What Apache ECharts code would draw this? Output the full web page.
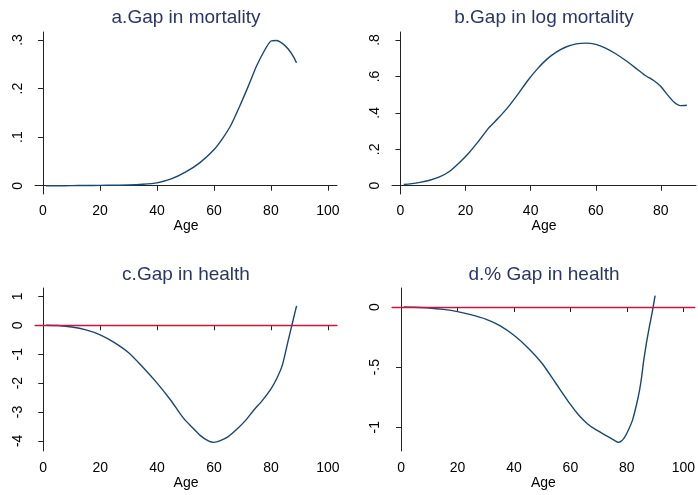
<!DOCTYPE html>
<html>
<head>
<meta charset="utf-8">
<title>Gaps by age</title>
<script src="https://cdn.jsdelivr.net/npm/echarts@6/dist/echarts.min.js"></script>
<style>
  html, body { margin: 0; padding: 0; background: #ffffff; }
  #chart { width: 698px; height: 495px; }
</style>
</head>
<body>
<div id="chart"></div>
<script>
// Panel titles
const panelTitles = ['a.Gap in mortality', 'b.Gap in log mortality', 'c.Gap in health', 'd.% Gap in health'];
const xAxisName = 'Age';

// a. Gap in mortality
const agesA = [1, 5, 10, 15, 20, 25, 30, 35, 40, 45, 50, 55, 60, 63, 66, 69, 72, 75, 78, 80, 82, 84, 86, 88, 89];
const gapMortality = [0, 0, 0.0003, 0.0005, 0.0008, 0.001, 0.0015, 0.003, 0.006, 0.014, 0.028, 0.047, 0.074, 0.097, 0.125, 0.163, 0.204, 0.247, 0.281, 0.298, 0.299, 0.293, 0.282, 0.265, 0.253];

// b. Gap in log mortality
const agesB = [1, 3, 6, 9, 12, 15, 18, 21, 24, 27, 30, 33, 36, 39, 42, 45, 48, 51, 54, 57, 60, 63, 66, 69, 72, 75, 78, 80, 82, 84, 86, 88];
const gapLogMortality = [0.007, 0.01, 0.018, 0.03, 0.048, 0.078, 0.125, 0.18, 0.245, 0.315, 0.37, 0.43, 0.5, 0.575, 0.64, 0.695, 0.735, 0.763, 0.779, 0.783, 0.776, 0.756, 0.726, 0.69, 0.65, 0.608, 0.575, 0.545, 0.5, 0.46, 0.44, 0.442];

// c. Gap in health
const agesC = [1, 5, 10, 15, 20, 25, 30, 35, 40, 45, 48, 50, 52, 55, 58, 60, 62, 65, 68, 71, 74, 77, 80, 82, 84, 86, 88, 89];
const gapHealth = [0, -0.01, -0.06, -0.16, -0.33, -0.6, -0.95, -1.45, -2.0, -2.62, -3.05, -3.3, -3.5, -3.8, -4.0, -4.05, -4.0, -3.85, -3.6, -3.3, -2.93, -2.6, -2.2, -1.85, -1.38, -0.55, 0.27, 0.67];

// d. % Gap in health
const agesD = [1, 5, 10, 15, 20, 25, 30, 35, 40, 45, 50, 55, 60, 63, 66, 69, 72, 75, 77, 78, 79, 80, 82, 84, 85, 86, 87, 88, 89, 90];
const pctGapHealth = [0, -0.002, -0.008, -0.02, -0.038, -0.065, -0.1, -0.155, -0.235, -0.34, -0.47, -0.64, -0.81, -0.9, -0.97, -1.02, -1.06, -1.1, -1.125, -1.115, -1.09, -1.05, -0.94, -0.75, -0.62, -0.44, -0.29, -0.16, -0.04, 0.094];

// Tick values
const xTicks = [0, 20, 40, 60, 80, 100];
const xTicksB = [0, 20, 40, 60, 80];
const yTicksA = [0, 0.1, 0.2, 0.3];
const yTicksB = [0, 0.2, 0.4, 0.6, 0.8];
const yTicksC = [-4, -3, -2, -1, 0, 1];
const yTicksD = [-1, -0.5, 0];

const lineColor = '#1a476f';
const refColor = '#c8143f';
const titleColor = '#2a3763';
const fontFamily = '"Liberation Sans", Arial, Helvetica, sans-serif';

// Stata-style numbers: drop the leading zero (".3", "-.5")
function fmt(v) {
  return String(v).replace(/^0\./, '.').replace(/^-0\./, '-.');
}

function pairs(xs, ys) {
  return xs.map((x, i) => [x, ys[i]]);
}

// Panel plot regions
const grids = [
  { left: 35, top: 32, width: 302, height: 162 },
  { left: 392, top: 32, width: 304, height: 162 },
  { left: 35, top: 288, width: 302, height: 163 },
  { left: 392, top: 288, width: 304, height: 163 }
];

const xRanges = [[-2.8, 103.2], [-2.6, 90.8], [-2.9, 103.2], [-3.2, 104.1]];
const yRanges = [[-0.017, 0.3165], [-0.0455, 0.844], [-4.35, 1.29], [-1.197, 0.158]];
const xTickSets = [xTicks, xTicksB, xTicks, xTicks];
const yTickSets = [yTicksA, yTicksB, yTicksC, yTicksD];
const seriesData = [
  pairs(agesA, gapMortality),
  pairs(agesB, gapLogMortality),
  pairs(agesC, gapHealth),
  pairs(agesD, pctGapHealth)
];

const axisLine = { show: true, lineStyle: { color: '#222', width: 1 } };

const xAxes = grids.map((g, i) => ({
  type: 'value',
  gridIndex: i,
  min: xRanges[i][0],
  max: xRanges[i][1],
  name: xAxisName,
  nameLocation: 'middle',
  nameGap: 25,
  nameTextStyle: { fontSize: 14, color: '#000', fontFamily },
  axisLine,
  axisTick: { show: true, length: 5, customValues: xTickSets[i], lineStyle: { color: '#222' } },
  axisLabel: { customValues: xTickSets[i], fontSize: 14, color: '#000', fontFamily, margin: 10, formatter: fmt },
  splitLine: { show: false }
}));

const yAxes = grids.map((g, i) => ({
  type: 'value',
  gridIndex: i,
  min: yRanges[i][0],
  max: yRanges[i][1],
  axisLine,
  axisTick: { show: true, length: 5, customValues: yTickSets[i], lineStyle: { color: '#222' } },
  axisLabel: { customValues: yTickSets[i], rotate: 90, fontSize: 14, color: '#000', fontFamily, margin: 10, formatter: fmt },
  splitLine: { show: false }
}));

const zeroLine = {
  silent: true,
  symbol: 'none',
  label: { show: false },
  lineStyle: { color: refColor, width: 1.3, type: 'solid' },
  data: [{ yAxis: 0 }]
};

const series = seriesData.map((d, i) => ({
  type: 'line',
  xAxisIndex: i,
  yAxisIndex: i,
  data: d,
  showSymbol: false,
  smooth: 0.2,
  lineStyle: { color: lineColor, width: 1.4 },
  markLine: i >= 2 ? zeroLine : undefined,
  animation: false
}));

// Titles centred over each panel
const titleCenters = [[186, 18], [544, 18], [186, 275], [544, 275]];
const graphic = panelTitles.map((t, i) => ({
  type: 'text',
  x: titleCenters[i][0],
  y: titleCenters[i][1],
  style: {
    text: t,
    align: 'center',
    verticalAlign: 'middle',
    fontSize: 19,
    fontFamily,
    fill: titleColor
  }
}));

const chart = echarts.init(document.getElementById('chart'), null, { renderer: 'canvas' });
chart.setOption({
  animation: false,
  backgroundColor: '#ffffff',
  grid: grids.map(g => Object.assign({ containLabel: false }, g)),
  xAxis: xAxes,
  yAxis: yAxes,
  series,
  graphic
});
</script>
</body>
</html>
